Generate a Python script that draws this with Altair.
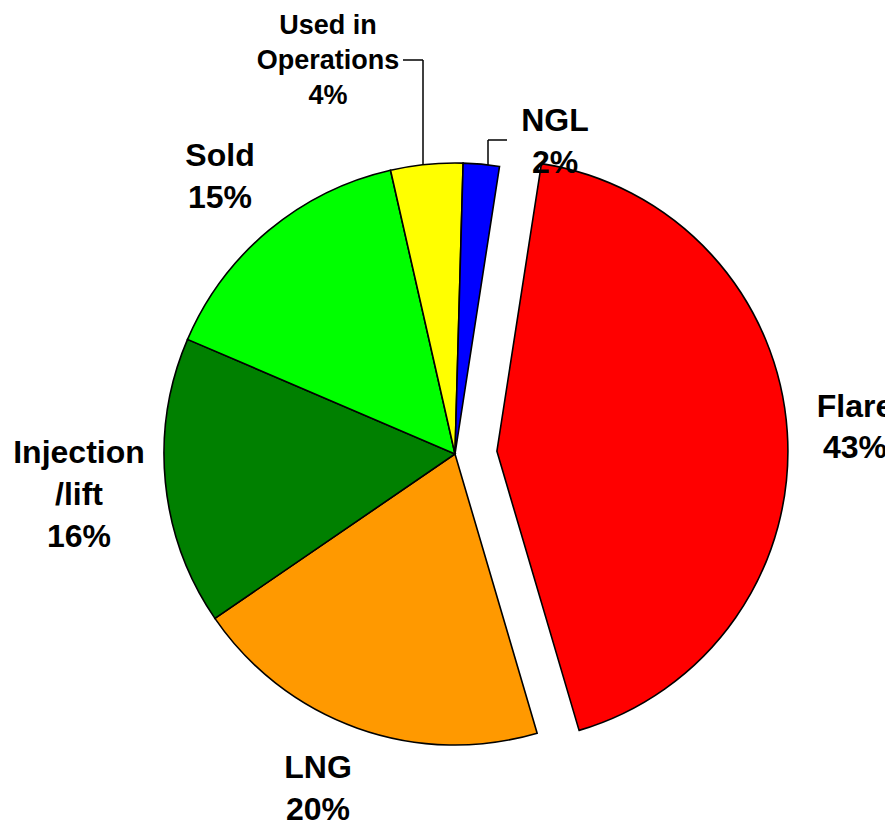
import math
import altair as alt
import pandas as pd

# ---- data ----
categories = ["Flare", "LNG", "Injection /lift", "Sold", "Used in Operations", "NGL"]
label_names = ["Flare", "LNG", "Injection\n/lift", "Sold", "Used in\nOperations", "NGL"]
values = [43, 20, 16, 15, 4, 2]

# ---- styles / layout ----
colors = ["#FF0000", "#FF9900", "#008000", "#00FF00", "#FFFF00", "#0000FF"]
CX, CY, R = 447, 446, 291           # pie centre and radius (chart px)
START = math.radians(8.8)           # angle where the first slice starts
explode = [42, 0, 0, 0, 0, 0]       # px offset of each slice along its mid-angle
# first-baseline anchor of each label (chart px), font size, line height
label_pos = [(847, 409), (310, 770), (71, 455), (212, 158), (320, 26), (547, 123)]
label_font = [32, 32, 32, 32, 27, 32]
label_lh = [41, 42, 42, 42, 35, 42]
FONT = "Liberation Sans"

W, H = 877, 815

df = pd.DataFrame({
    "category": categories,
    "value": values,
    "order": list(range(len(categories))),
    "explode": explode,
})

theta_scale = alt.Scale(domain=[0, 100], range=[START, START + 2 * math.pi])

arcs = alt.Chart(df).transform_window(
    cum="sum(value)", sort=[alt.SortField("order")], frame=[None, 0]
).transform_calculate(
    start="datum.cum - datum.value",
).transform_calculate(
    mid=f"{START} + (datum.start + datum.value / 2) / 100 * 2 * PI",
).transform_calculate(
    px=f"{CX} + datum.explode * sin(datum.mid)",
    py=f"{CY} - datum.explode * cos(datum.mid)",
).mark_arc(outerRadius=R, stroke="black", strokeWidth=1.6).encode(
    theta=alt.Theta("start:Q", scale=theta_scale, stack=None),
    theta2="cum:Q",
    x=alt.X("px:Q", scale=None, axis=None),
    y=alt.Y("py:Q", scale=None, axis=None),
    color=alt.Color("category:N", scale=alt.Scale(domain=categories, range=colors), legend=None),
)

# labels
lab = pd.DataFrame({
    "category": categories,
    "text": [f"{n}\n{v}%" for n, v in zip(label_names, values)],
    "lx": [p[0] for p in label_pos],
    "ly": [p[1] for p in label_pos],
    "fs": label_font,
    "lh": label_lh,
})

text_layers = []
for lh in sorted(set(label_lh)):
    sub = lab[lab["lh"] == lh]
    text_layers.append(
        alt.Chart(sub).mark_text(
            font=FONT, fontWeight="bold", align="center", baseline="alphabetic",
            lineBreak="\n", lineHeight=lh, color="black",
        ).encode(
            x=alt.X("lx:Q", scale=None, axis=None),
            y=alt.Y("ly:Q", scale=None, axis=None),
            text="text:N",
            size=alt.Size("fs:Q", scale=None, legend=None),
        )
    )

# leader lines: label side -> elbow -> pie edge (edge point lies on the circle)
leaders = {"Used in Operations": (395, 415, 52), "NGL": (499, 480, 132)}  # (x label end, x elbow, y)
segs = []
for cat, (xa, xe, ye) in leaders.items():
    yedge = CY - math.sqrt(R ** 2 - (xe - CX) ** 2)
    segs.append({"x": xa, "x2": xe, "y": ye, "y2": ye})
    segs.append({"x": xe, "x2": xe, "y": ye, "y2": yedge})
seg_df = pd.DataFrame(segs)
rules = alt.Chart(seg_df).mark_rule(color="black", strokeWidth=1.5).encode(
    x=alt.X("x:Q", scale=None, axis=None),
    x2="x2:Q",
    y=alt.Y("y:Q", scale=None, axis=None),
    y2="y2:Q",
)

chart = alt.layer(arcs, rules, *text_layers).properties(
    width=W, height=H, padding=0, autosize="none",
).configure_view(stroke=None)

chart.save("out.html", embed_options={"renderer": "svg", "actions": False})
